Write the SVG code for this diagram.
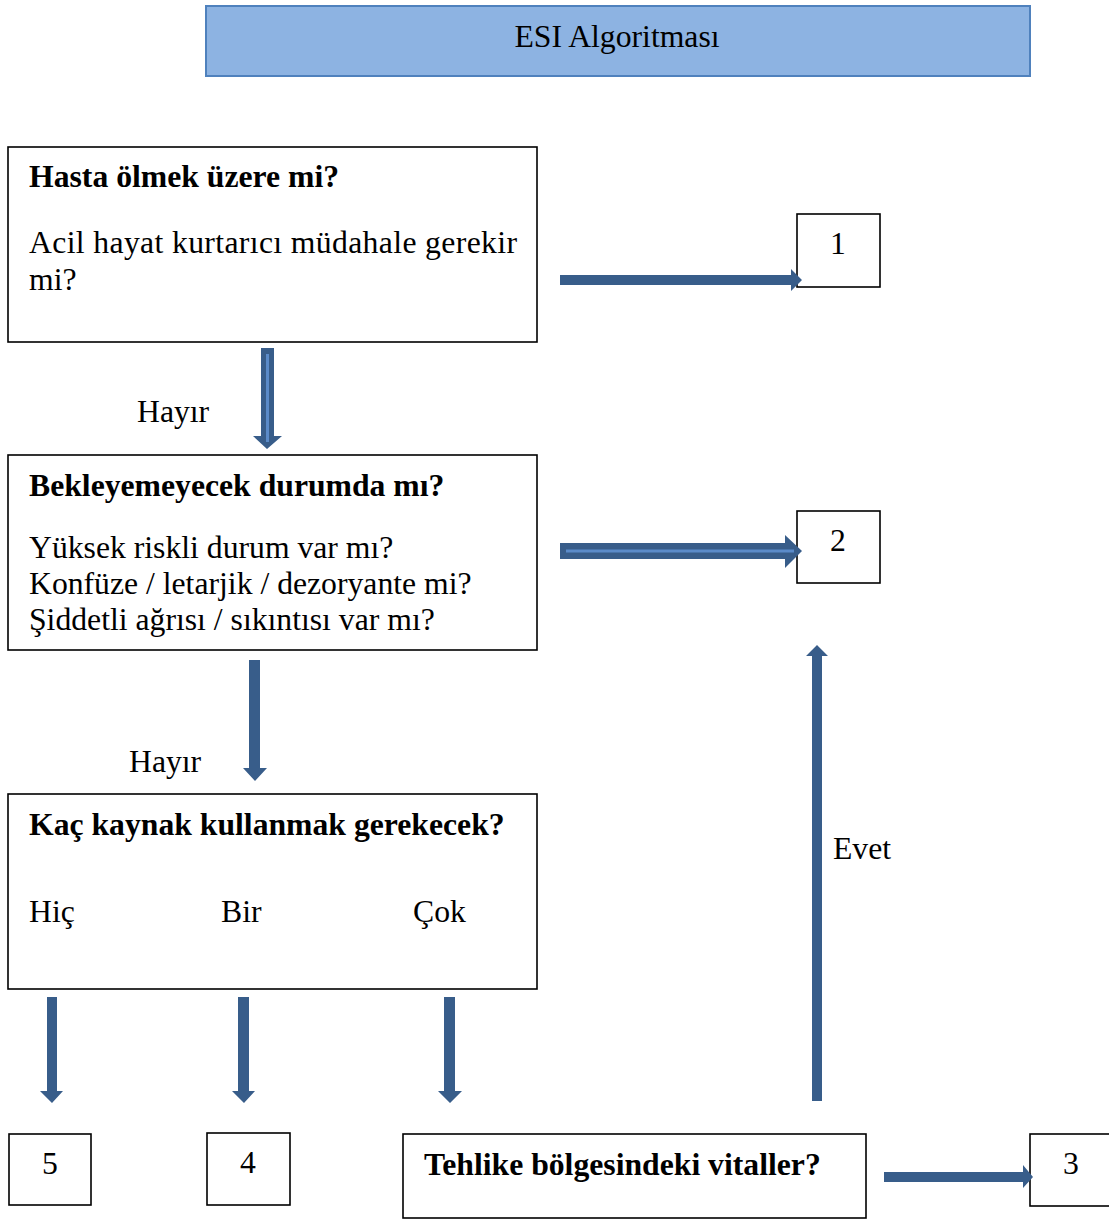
<svg xmlns="http://www.w3.org/2000/svg" width="1109" height="1220" viewBox="0 0 1109 1220">
<style>
text{font-family:"Liberation Serif","Times New Roman",serif;font-size:31.7px;fill:#000}
.b{font-weight:bold}
.box{fill:#fff;stroke:#000;stroke-width:1.6}
.arr{fill:#385d8a}
.hl{stroke:#5b8bc9;stroke-width:3;fill:none}
</style>
<rect x="0" y="0" width="1109" height="1220" fill="#fff"/>
<g id="title">
<rect x="206" y="6" width="824" height="70" fill="#8db3e2" stroke="#4f81bd" stroke-width="2"/>
<text x="617" y="47" text-anchor="middle">ESI Algoritması</text>
</g>
<g id="n1">
<rect class="box" x="8" y="147" width="529" height="195"/>
<text class="b" x="29" y="187">Hasta ölmek üzere mi?</text>
<text x="29" y="253" textLength="488" lengthAdjust="spacing">Acil hayat kurtarıcı müdahale gerekir</text>
<text x="29" y="290">mi?</text>
</g>
<g id="r1">
<rect class="box" x="797" y="214" width="83" height="73"/>
<text x="838" y="254" text-anchor="middle">1</text>
</g>
<g id="n2">
<rect class="box" x="8" y="455" width="529" height="195"/>
<text class="b" x="29" y="496">Bekleyemeyecek durumda mı?</text>
<text x="29" y="558">Yüksek riskli durum var mı?</text>
<text x="29" y="594">Konfüze / letarjik / dezoryante mi?</text>
<text x="29" y="630">Şiddetli ağrısı / sıkıntısı var mı?</text>
</g>
<g id="r2">
<rect class="box" x="797" y="511" width="83" height="72"/>
<text x="838" y="551" text-anchor="middle">2</text>
</g>
<g id="n3">
<rect class="box" x="8" y="794" width="529" height="195"/>
<text class="b" x="29" y="835">Kaç kaynak kullanmak gerekecek?</text>
<text x="29" y="922">Hiç</text>
<text x="221" y="922">Bir</text>
<text x="413" y="922">Çok</text>
</g>
<g id="r5">
<rect class="box" x="9" y="1134" width="82" height="71"/>
<text x="50" y="1174" text-anchor="middle">5</text>
</g>
<g id="r4">
<rect class="box" x="207" y="1133" width="83" height="72"/>
<text x="248" y="1173" text-anchor="middle">4</text>
</g>
<g id="n4">
<rect class="box" x="403" y="1134" width="463" height="84"/>
<text class="b" x="424" y="1175">Tehlike bölgesindeki vitaller?</text>
</g>
<g id="r3">
<rect class="box" x="1030" y="1134" width="82" height="72"/>
<text x="1071" y="1174" text-anchor="middle">3</text>
</g>
<g id="connectors">
<polygon class="arr" points="560,275 791,275 791,269 802,280 791,291 791,285 560,285"/>
<polygon class="arr" points="560,543 785,543 785,535 802,551 785,568 785,559 560,559"/>
<path class="hl" d="M566,551 H794"/>
<polygon class="arr" points="261,348 274,348 274,436 282,436 267,449 253,436 261,436"/>
<path class="hl" d="M267.5,354 V442"/>
<polygon class="arr" points="249,660 260,660 260,768 267,768 255,781 243,768 249,768"/>
<polygon class="arr" points="47,997 57,997 57,1091 63,1091 52,1103 40,1091 47,1091"/>
<polygon class="arr" points="238,997 249,997 249,1091 255,1091 244,1103 232,1091 238,1091"/>
<polygon class="arr" points="444,997 455,997 455,1091 462,1091 450,1103 438,1091 444,1091"/>
<polygon class="arr" points="812,1101 822,1101 822,656 828,656 817,645 806,656 812,656"/>
<polygon class="arr" points="884,1172 1023,1172 1023,1165 1033,1177 1023,1188 1023,1182 884,1182"/>
<text x="137" y="422">Hayır</text>
<text x="129" y="772">Hayır</text>
<text x="833" y="859">Evet</text>
</g>
</svg>
